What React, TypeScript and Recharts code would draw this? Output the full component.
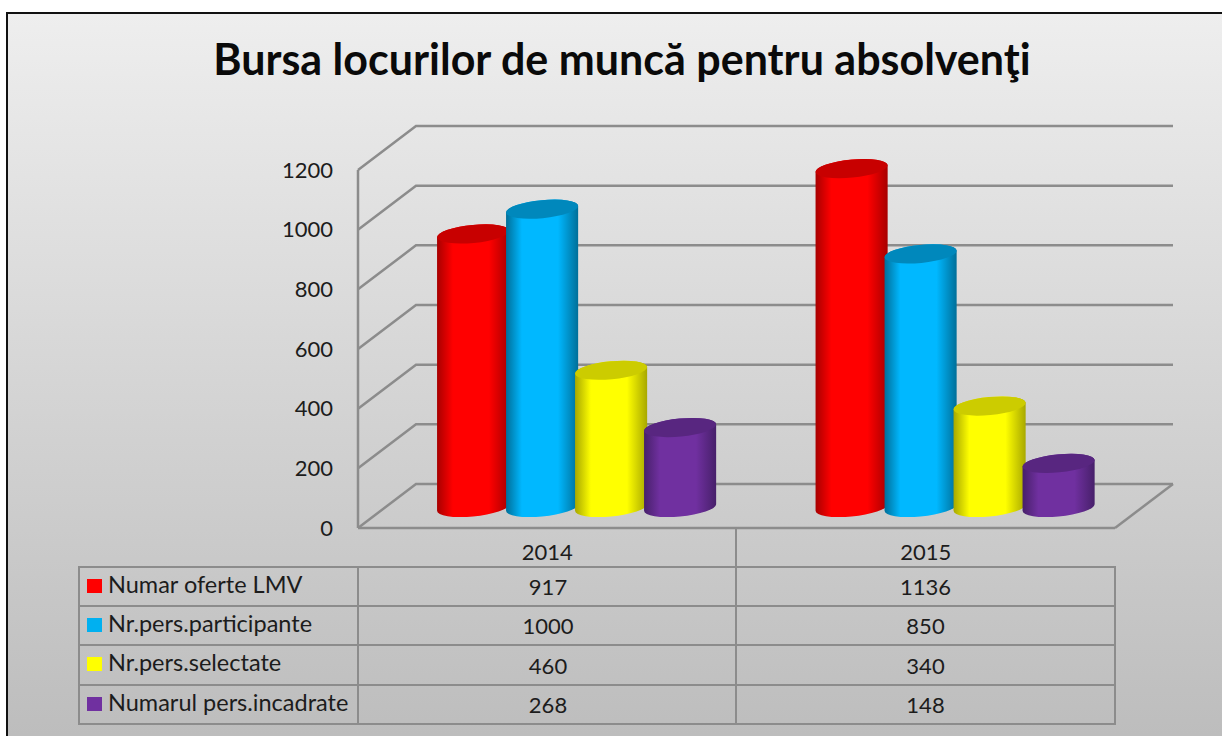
import React from 'react';
import { BarChart, Bar, XAxis, YAxis, CartesianGrid } from 'recharts';

const years = ['2014', '2015'];
const seriesNames = ['Numar oferte LMV', 'Nr.pers.participante', 'Nr.pers.selectate', 'Numarul pers.incadrate'];
const oferte = [917, 1136];
const participante = [1000, 850];
const selectate = [460, 340];
const incadrate = [268, 148];
const yTicks = [0, 200, 400, 600, 800, 1000, 1200];

const seriesValues = [oferte, participante, selectate, incadrate];
const seriesColors = ['#ff0000', '#00b8ff', '#ffff00', '#7030a0'];
const swatchColors = ['#ff0000', '#00b0f0', '#ffff00', '#7030a0'];
const edgeColors = ['#a80000', '#006f99', '#a8a800', '#47206a'];
const capColors = ['#c80000', '#0088bc', '#cccc00', '#582680'];

const chartData = years.map((year, i) => ({
  year,
  s0: oferte[i],
  s1: participante[i],
  s2: selectate[i],
  s3: incadrate[i],
}));

const font = 'Lato, Carlito, Calibri, sans-serif';
const gridColor = '#8c8c8c';
const textColor = '#1c1c1c';

// the plot box is the front face; the walls sit further back by this much
const plotBottom = 528;
const wallDx = 58;
const wallDy = -44;
// cylinders stand in the middle of the floor
const barDx = 29.6;
const barDy = -20.5;
const radiusX = 36.2;
const radiusY = 9;
const tilt = 5.5;

function WallLine(props: any) {
  const { x1, x2, y1 } = props;
  return (
    <g fill="none" stroke={gridColor} strokeWidth={2.5}>
      <polyline points={`${x1},${y1} ${x1 + wallDx},${y1 + wallDy} ${x2 + wallDx},${y1 + wallDy}`} />
      {Math.abs(y1 - plotBottom) < 1 && (
        <line x1={x2} y1={y1} x2={x2 + wallDx} y2={y1 + wallDy} />
      )}
    </g>
  );
}

function Cylinder(props: any) {
  const { x, y, width, height, seriesIndex } = props;
  const cx = x + width / 2 + barDx;
  const topY = y + barDy;
  const baseY = y + height + barDy;
  const rad = (tilt * Math.PI) / 180;
  const a2 = radiusX * radiusX;
  const b2 = radiusY * radiusY;
  const ex = Math.sqrt(a2 * Math.cos(rad) ** 2 + b2 * Math.sin(rad) ** 2);
  const ey = ((a2 - b2) * Math.sin(rad) * Math.cos(rad)) / ex;
  const path = [
    `M${cx - ex},${topY + ey}`,
    `L${cx - ex},${baseY + ey}`,
    `A${radiusX},${radiusY} ${-tilt} 0 0 ${cx + ex},${baseY - ey}`,
    `L${cx + ex},${topY - ey}`,
    `A${radiusX},${radiusY} ${-tilt} 0 0 ${cx - ex},${topY + ey}`,
    'Z',
  ].join(' ');
  return (
    <g>
      <path d={path} fill={`url(#cyl${seriesIndex})`} />
      <ellipse
        cx={cx}
        cy={topY}
        rx={radiusX}
        ry={radiusY}
        fill={capColors[seriesIndex]}
        transform={`rotate(${-tilt} ${cx} ${topY})`}
      />
    </g>
  );
}

const rowTops = [566, 605, 644, 684];
const rowHeight = 39;

function DataTable() {
  return (
    <div style={{ position: 'absolute', left: 0, top: 0, fontFamily: font, fontSize: 22, color: textColor }}>
      <div style={{ position: 'absolute', left: 735, top: 528, width: 2, height: 196, background: gridColor }} />
      {seriesNames.map((name, r) => (
        <div
          key={name}
          style={{
            position: 'absolute',
            left: 78,
            top: rowTops[r],
            width: 1038,
            height: rowTops[r + 1] ? rowTops[r + 1] - rowTops[r] : rowHeight + 2,
            boxSizing: 'border-box',
            borderTop: `2px solid ${gridColor}`,
            borderLeft: `2px solid ${gridColor}`,
            borderRight: `2px solid ${gridColor}`,
            borderBottom: r === seriesNames.length - 1 ? `2px solid ${gridColor}` : 'none',
            display: 'grid',
            gridTemplateColumns: '279px 378px 377px',
            alignItems: 'center',
          }}
        >
          <div style={{ position: 'relative', height: '100%', borderRight: `2px solid ${gridColor}`, boxSizing: 'border-box' }}>
            <span
              style={{
                position: 'absolute',
                left: 7,
                top: 11,
                width: 15,
                height: 14,
                background: swatchColors[r],
              }}
            />
            <span style={{ position: 'absolute', left: 28, top: 2, fontSize: 23.5, whiteSpace: 'nowrap' }}>{name}</span>
          </div>
          {seriesValues[r].map((v, c) => (
            <div key={c} style={{ textAlign: 'center' }}>
              {v}
            </div>
          ))}
        </div>
      ))}
    </div>
  );
}

export default function App() {
  return (
    <div style={{ position: 'absolute', left: 0, top: 0, width: 1222, height: 736, overflow: 'hidden', background: '#fff' }}>
      <div
        style={{
          position: 'absolute',
          left: 6,
          top: 12,
          width: 1230,
          height: 740,
          boxSizing: 'border-box',
          border: '2px solid #111',
          background: 'linear-gradient(180deg, #eeeeee 0%, #bcbcbc 100%)',
        }}
      />
      <div
        style={{
          position: 'absolute',
          left: 0,
          top: 33,
          width: 1244,
          textAlign: 'center',
          fontFamily: font,
          fontWeight: 700,
          fontSize: 43,
          color: '#0a0a0a',
          whiteSpace: 'nowrap',
        }}
      >
        Bursa locurilor de muncă pentru absolvenţi
      </div>
      <div style={{ position: 'absolute', left: 0, top: 0 }}>
        <BarChart
          width={1222}
          height={736}
          data={chartData}
          barSize={69}
          barGap={0}
          margin={{ left: 298, right: 107, top: 170, bottom: 168 }}
        >
          <defs>
            {seriesColors.map((c, i) => (
              <linearGradient key={c} id={`cyl${i}`} x1="0" y1="0" x2="1" y2="0">
                <stop offset="0%" stopColor={edgeColors[i]} />
                <stop offset="22%" stopColor={c} />
                <stop offset="72%" stopColor={c} />
                <stop offset="100%" stopColor={edgeColors[i]} />
              </linearGradient>
            ))}
          </defs>
          <CartesianGrid vertical={false} horizontal={(p: any) => <WallLine key={p.key} {...p} />} />
          <XAxis
            dataKey="year"
            height={40}
            tickLine={false}
            axisLine={{ stroke: gridColor, strokeWidth: 2.5 }}
            tickMargin={10}
            tick={{ fontFamily: font, fontSize: 22, fill: textColor }}
          />
          <YAxis
            width={60}
            domain={[0, 1200]}
            ticks={yTicks}
            interval={0}
            tickLine={false}
            axisLine={{ stroke: gridColor, strokeWidth: 2.5 }}
            tickMargin={19}
            tick={{ fontFamily: font, fontSize: 22, fill: textColor }}
          />
          {seriesNames.map((name, i) => (
            <Bar
              key={name}
              dataKey={`s${i}`}
              name={name}
              fill={seriesColors[i]}
              isAnimationActive={false}
              shape={(p: any) => <Cylinder {...p} seriesIndex={i} />}
            />
          ))}
        </BarChart>
      </div>
      <DataTable />
    </div>
  );
}
